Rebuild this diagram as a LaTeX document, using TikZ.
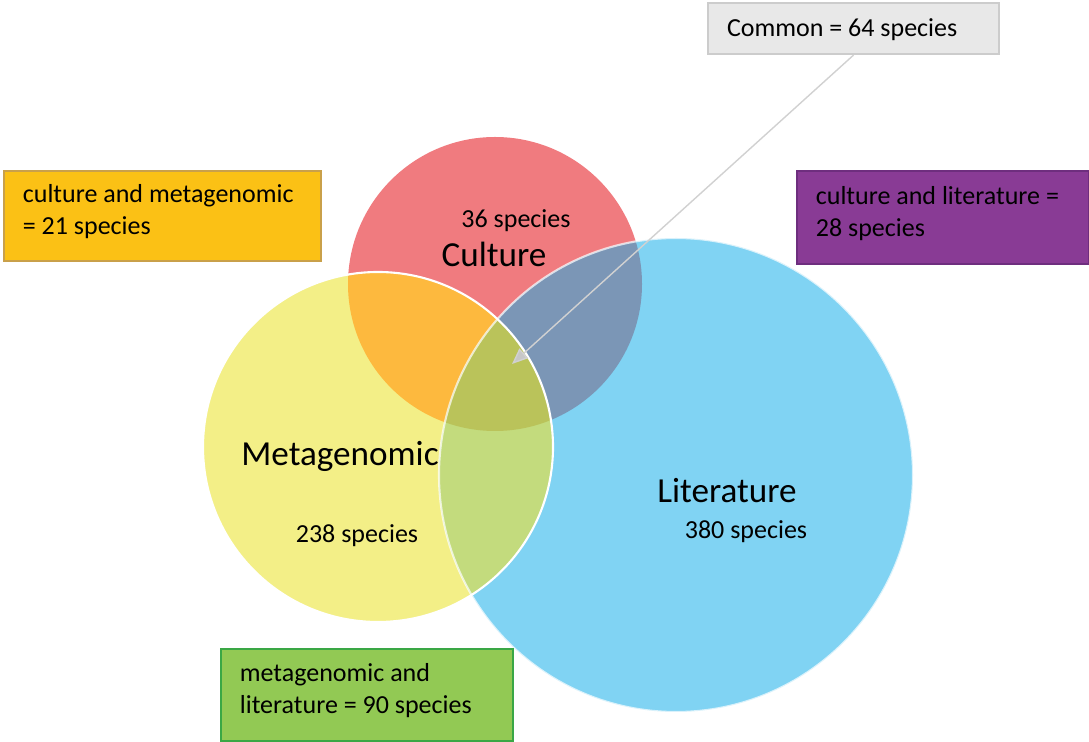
\documentclass[tikz,border=0pt]{standalone}
\usepackage{fontspec}
\setmainfont{Carlito}
\usetikzlibrary{positioning}
\usetikzlibrary{arrows.meta}

\definecolor{culturered}{HTML}{F07B7F}
\definecolor{metayellow}{HTML}{F3EF87}
\definecolor{litblue}{HTML}{80D3F3}
\definecolor{cmorange}{HTML}{FDB93E}
\definecolor{clgrey}{HTML}{7B96B6}
\definecolor{mlgreen}{HTML}{C3DB7D}
\definecolor{allolive}{HTML}{BAC35A}
\definecolor{boxorange}{HTML}{FBC115}
\definecolor{boxorangeline}{HTML}{C9A04A}
\definecolor{boxpurple}{HTML}{893B95}
\definecolor{boxpurpleline}{HTML}{6E2E7E}
\definecolor{boxgreen}{HTML}{92C954}
\definecolor{boxgreenline}{HTML}{3AA745}

\tikzset{
  setlabel/.style={font=\fontsize{20}{24}\selectfont},
  countlabel/.style={font=\fontsize{14.8}{18}\selectfont},
  infobox/.style={draw, line width=1pt, align=flush left, anchor=north west, inner xsep=0.38cm,
    text depth=25pt, font=\fontsize{14.8}{18}\selectfont},
}

\def\culturepath{(495,284) circle (147)}
\def\metapath{(378,447) circle (175)}
\def\litpath{(676,475) circle (237)}

\begin{document}
\begin{tikzpicture}[x=0.02cm, y=-0.02cm]
        \useasboundingbox (0,0) rectangle (1089,742);
        % sets
        \fill[culturered] \culturepath;
        \fill[metayellow] \metapath;
        \fill[litblue] \litpath;
        % overlaps
        \begin{scope}
          \clip \culturepath;
          \fill[cmorange] \metapath;
          \fill[clgrey] \litpath;
        \end{scope}
        \begin{scope}
          \clip \metapath;
          \fill[mlgreen] \litpath;
          \clip \culturepath;
          \fill[allolive] \litpath;
        \end{scope}
        \draw[white, line width=1.2pt] \metapath;
        \draw[white, draw opacity=0.7, line width=1.2pt] \litpath;

        % Define nodes
        \node[setlabel] (culture_lbl) at (494,254) {Culture}; %
        \node[countlabel] (culture_cnt) at (516,221) {36 species}; %
        \node[setlabel] (meta_lbl) at (340,456) {Metagenomic}; %
        \node[countlabel] (meta_cnt) at (357,536) {238 species}; %
        \node[setlabel] (lit_lbl) at (727,491) {Literature}; %
        \node[countlabel] (lit_cnt) at (746,532) {380 species}; %

        % boxes
        \node[infobox, draw=black!20, fill=black!9, text width=5.06cm, minimum height=1.02cm,
              text depth=1pt, line width=1.2pt] (common) at (707,2) {Common = 64 species};
        \node[infobox, draw=boxorangeline, fill=boxorange, text width=5.58cm, minimum height=1.8cm]
              (cm_box) at (3,170) {culture and metagenomic\\= 21 species};
        \node[infobox, draw=boxpurpleline, fill=boxpurple, text width=5.08cm, minimum height=1.86cm]
              (cl_box) at (796,170) {culture and literature =\\28 species};
        \node[infobox, draw=boxgreenline, fill=boxgreen, text width=5.08cm, minimum height=1.84cm]
              (ml_box) at (220,648) {metagenomic and\\literature = 90 species};

        \coordinate (common_tip) at (512,364);
        \draw[black!18, line width=0.8pt, -{Triangle[length=0.32cm, width=0.26cm, fill=black!22]}]
              (common.south) -- (common_tip);
    \end{tikzpicture}
\end{document}
